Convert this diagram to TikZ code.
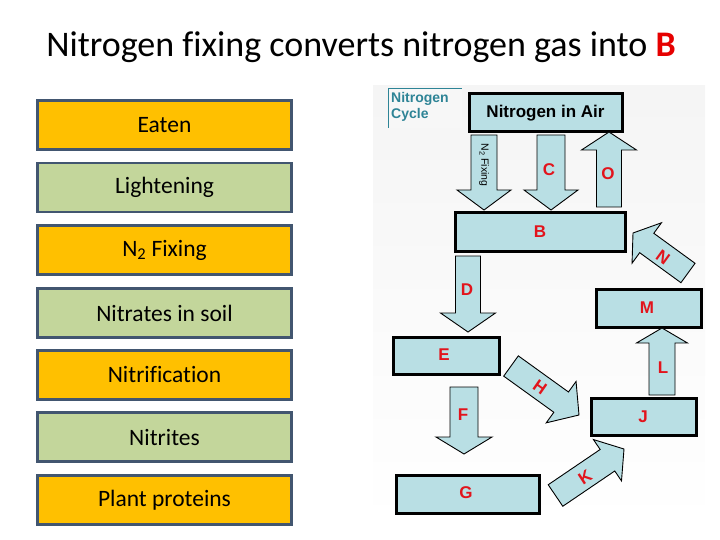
\documentclass[tikz,border=0pt]{standalone}
\usepackage{fontspec}
\setmainfont{Carlito}[Ligatures=NoCommon]
\newfontfamily\arialf{Liberation Sans}
\usetikzlibrary{calc}
\definecolor{orangebox}{RGB}{255,192,0}
\definecolor{greenbox}{RGB}{195,214,155}
\definecolor{slateborder}{RGB}{66,86,112}
\definecolor{cyclebox}{RGB}{185,223,228}
\definecolor{cyclered}{RGB}{226,20,28}
\definecolor{cycleteal}{RGB}{46,132,150}
\definecolor{titlered}{RGB}{230,0,0}
\tikzset{
  optbox/.style={draw=slateborder, line width=2.6pt, minimum width=254pt, minimum height=49pt, inner sep=0pt, font=\fontsize{23.5}{27}\selectfont},
  orangeopt/.style={optbox, fill=orangebox},
  greenopt/.style={optbox, fill=greenbox},
  cbox/.style={draw=black, line width=3pt, fill=cyclebox, inner sep=0pt},
  barrow/.style={draw=black, line width=0.9pt, fill=cyclebox, line join=miter},
  lbl/.style={text=cyclered, font=\arialf\bfseries\fontsize{17}{19}\selectfont, inner sep=0pt}
}
\newcommand{\blockarr}[6]{%
  \coordinate (#1s) at #2;
  \coordinate (#1t) at #3;
  \coordinate (#1h) at ($(#1t)!#6!(#1s)$);
  \draw[barrow] ($(#1s)!#4!90:(#1t)$) -- ($(#1h)!#4!90:(#1t)$) -- ($(#1h)!#5!90:(#1t)$) -- (#1t)
    -- ($(#1h)!#5!-90:(#1t)$) -- ($(#1h)!#4!-90:(#1t)$) -- ($(#1s)!#4!-90:(#1t)$) -- cycle;
}
\begin{document}
\begin{tikzpicture}[x=1pt,y=-1pt]
\useasboundingbox (0,0) rectangle (720,540);
% title
\node[anchor=base, font=\fontsize{36}{42}\selectfont, inner sep=0pt] (title) at (361,57)
  {Nitrogen fixing converts nitrogen gas into \textcolor{titlered}{\textbf{B}}};
% left option boxes
\node[orangeopt] (o1) at (164.5,125) {Eaten};
\node[greenopt]  (o2) at (164.5,187.5) {Lightening};
\node[orangeopt] (o3) at (164.5,250) {N\textsubscript{2} Fixing};
\node[greenopt]  (o4) at (164.5,313) {Nitrates in soil};
\node[orangeopt] (o5) at (164.5,375) {Nitrification};
\node[greenopt]  (o6) at (164.5,437) {Nitrites};
\node[orangeopt] (o7) at (164.5,500) {Plant proteins};
% background of the cycle picture
\shade[top color=white!96!black, middle color=black!47, bottom color=white] (373,86) rectangle (705,526);
% label Nitrogen Cycle
\fill[white!97!black] (388,88) rectangle (462,128);
\draw[cycleteal, line width=0.8pt] (388,128) -- (388,88) -- (462,88);
\node[anchor=north west, align=left, text=cycleteal, font=\arialf\bfseries\fontsize{14}{16.5}\selectfont, inner sep=0pt] (ctitle) at (391,92) {Nitrogen\\Cycle};
% boxes
\node[cbox, minimum width=153pt, minimum height=38pt, font=\arialf\bfseries\fontsize{17}{19}\selectfont] (air) at (545.5,113) {Nitrogen in Air};
\node[cbox, minimum width=170pt, minimum height=38pt] (B) at (540,232) {};
\node[cbox, minimum width=105pt, minimum height=38pt] (M) at (648.5,308) {};
\node[cbox, minimum width=106pt, minimum height=37pt] (E) at (446,355.5) {};
\node[cbox, minimum width=105pt, minimum height=37pt] (J) at (643.5,416.5) {};
\node[cbox, minimum width=143pt, minimum height=38pt] (G) at (467.5,494) {};
\node[lbl] (lB) at (540,232) {B};
\node[lbl] (lM) at (647,308) {M};
\node[lbl] (lE) at (444,355) {E};
\node[lbl] (lJ) at (643,417) {J};
\node[lbl] (lG) at (466,493) {G};
% block arrows
\blockarr{fx}{(484,135)}{(484,210)}{13pt}{27pt}{20pt}
\blockarr{c}{(551,135)}{(551,210)}{14pt}{27pt}{20pt}
\blockarr{o}{(609,207)}{(609,132)}{12.5pt}{27.5pt}{18pt}
\blockarr{d}{(468,256)}{(468,332)}{12.5pt}{27.5pt}{19pt}
\blockarr{f}{(464,387)}{(464,454)}{14pt}{28pt}{17pt}
\blockarr{l}{(662,395)}{(662,328)}{13pt}{25.5pt}{15pt}
\blockarr{n}{(688,273)}{(633,233)}{12pt}{25pt}{17pt}
\blockarr{h}{(511,366)}{(579,415)}{12.5pt}{25.5pt}{22pt}
\blockarr{k}{(555.5,495.5)}{(624,449)}{13pt}{25pt}{20pt}
\node[rotate=-90, font=\arialf\fontsize{10.5}{12}\selectfont, inner sep=0pt] (lfx) at (484,165) {N\textsubscript{2} Fixing};
\node[lbl] (lC) at (549,170) {C};
\node[lbl] (lO) at (608,174) {O};
\node[lbl] (lD) at (467,290) {D};
\node[lbl] (lF) at (463,415) {F};
\node[lbl] (lL) at (663,368) {L};
\node[lbl, rotate=-36] (lN) at (663,257) {N};
\node[lbl, rotate=-35] (lH) at (540,387) {H};
\node[lbl, rotate=33] (lK) at (585,477) {K};
\end{tikzpicture}
\end{document}
